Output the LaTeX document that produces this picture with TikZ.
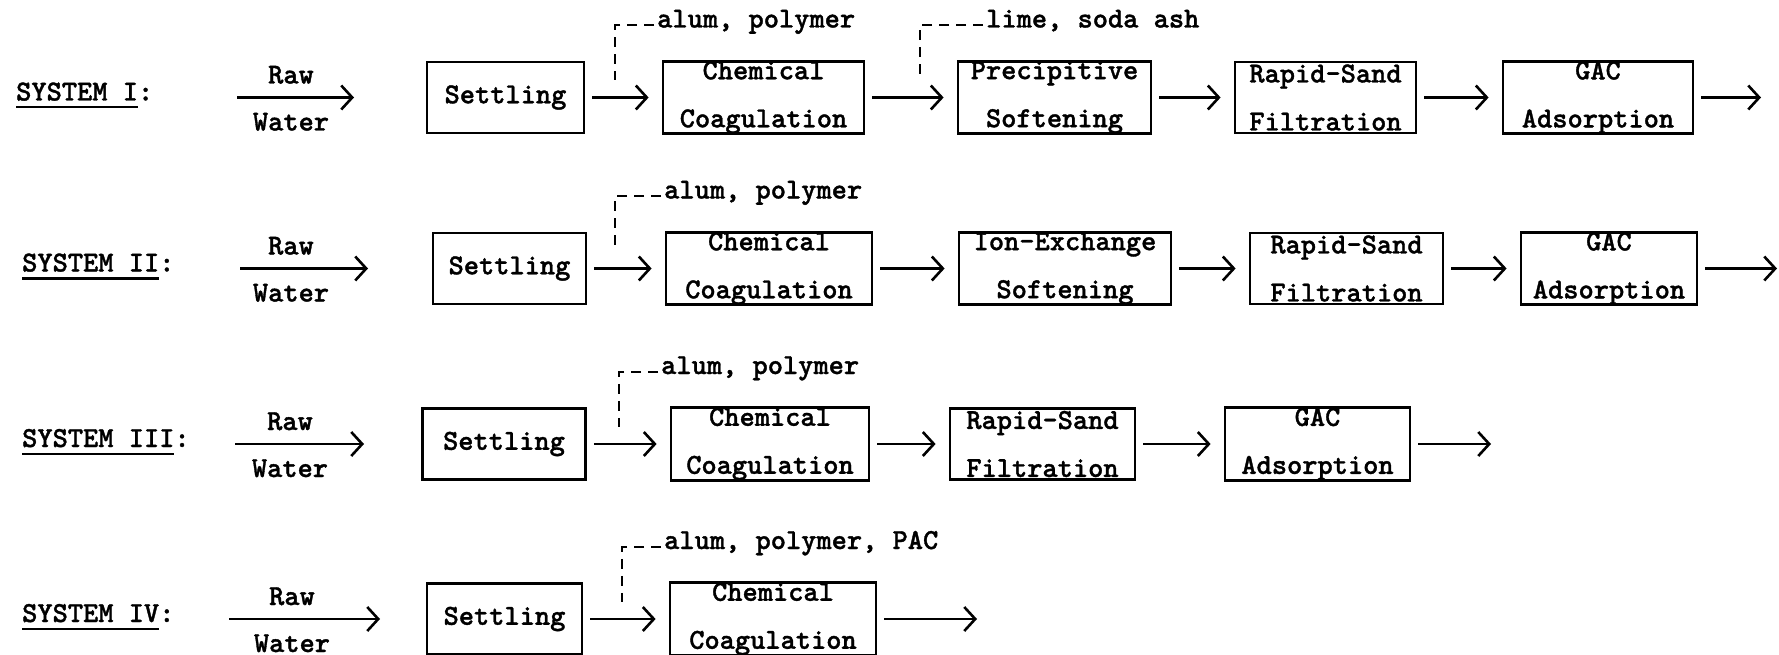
\documentclass[tikz,border=0pt]{standalone}
\usepackage{fontspec}
\usetikzlibrary{arrows.meta}
\newfontfamily\twfont[FakeBold=1.2]{lmmonolt10-bold.otf}
\newcommand{\sysname}[1]{\setbox0\hbox{#1}\rlap{\rule[-8pt]{\wd0}{2.2pt}}\box0}
\begin{document}
\begin{tikzpicture}[x=1pt,y=-1pt,
  unit/.style={draw,line width=2.8pt,inner xsep=0pt,inner ysep=0pt,minimum height=71pt,align=center,font=\twfont\fontsize{29}{48}\selectfont},
  tw/.style={inner sep=0pt,font=\twfont\fontsize{29}{34}\selectfont},
  feed/.style={tw,inner xsep=3pt,anchor=base west},
  flow/.style={-{Straight Barb[length=11pt,width=24pt]},line width=2.6pt,shorten <=7pt,shorten >=13pt},
  dose/.style={line width=2pt,dash pattern=on 10pt off 7pt}]
\path[use as bounding box] (0,0) rectangle (1779,655);
% SYSTEM I
\node[tw,anchor=base west] (sys1) at (16,100.5) {\sysname{SYSTEM I}:};
\node[tw,anchor=base] (raw1) at (291,83.5) {Raw};
\node[tw,anchor=base] (wat1) at (291,130.5) {Water};
\coordinate (in1) at (237,97.5);
\coordinate (inend1) at (354,97.5);
\node[unit,minimum width=157pt] (set1) at (505.5,97.5) {Settling};
\node[unit,minimum width=201pt] (chem1) at (763.5,97.5) {Chemical\\Coagulation};
\node[unit,minimum width=193pt] (prec1) at (1054.5,97.5) {Precipitive\\Softening};
\node[unit,minimum width=181pt] (rsf1) at (1325.5,97.5) {Rapid-Sand\\Filtration};
\node[unit,minimum width=190pt] (gac1) at (1598,97.5) {GAC\\Adsorption};
\coordinate (out1) at (1761,97.5);
\node[feed] (alum1) at (654,27.5) {alum, polymer};
\coordinate (drop1) at (615,80.5);
\node[feed] (lime1) at (983,27.5) {lime, soda ash};
\coordinate (drop1b) at (920,78);
\draw[flow,shorten <=0pt,shorten >=0pt] (in1) -- (inend1);
\draw[flow] (set1) -- (chem1);
\draw[flow] (chem1) -- (prec1);
\draw[flow] (prec1) -- (rsf1);
\draw[flow] (rsf1) -- (gac1);
\draw[flow,shorten >=0pt] (gac1) -- (out1);
\draw[dose] (alum1.mid west) -| (drop1);
\draw[dose] (lime1.mid west) -| (drop1b);
% SYSTEM II
\node[tw,anchor=base west] (sys2) at (22,271.5) {\sysname{SYSTEM II}:};
\node[tw,anchor=base] (raw2) at (291,254.5) {Raw};
\node[tw,anchor=base] (wat2) at (291,301.5) {Water};
\coordinate (in2) at (240,268.5);
\coordinate (inend2) at (368,268.5);
\node[unit,minimum width=153pt] (set2) at (509.5,268.5) {Settling};
\node[unit,minimum width=206pt] (chem2) at (769,268.5) {Chemical\\Coagulation};
\node[unit,minimum width=212pt] (ion2) at (1065,268.5) {Ion-Exchange\\Softening};
\node[unit,minimum width=193pt] (rsf2) at (1346.5,268.5) {Rapid-Sand\\Filtration};
\node[unit,minimum width=176pt] (gac2) at (1609,268.5) {GAC\\Adsorption};
\coordinate (out2) at (1777,268.5);
\node[feed] (alum2) at (661,198.5) {alum, polymer};
\coordinate (drop2) at (615,251.5);
\draw[flow,shorten <=0pt,shorten >=0pt] (in2) -- (inend2);
\draw[flow] (set2) -- (chem2);
\draw[flow] (chem2) -- (ion2);
\draw[flow] (ion2) -- (rsf2);
\draw[flow] (rsf2) -- (gac2);
\draw[flow,shorten >=0pt] (gac2) -- (out2);
\draw[dose] (alum2.mid west) -| (drop2);
% SYSTEM III
\node[tw,anchor=base west] (sys3) at (22,447) {\sysname{SYSTEM III}:};
\node[tw,anchor=base] (raw3) at (290,430) {Raw};
\node[tw,anchor=base] (wat3) at (290,477) {Water};
\coordinate (in3) at (235,444);
\coordinate (inend3) at (364,444);
\node[unit,minimum width=163pt] (set3) at (504,444) {Settling};
\node[unit,minimum width=198pt] (chem3) at (770,444) {Chemical\\Coagulation};
\node[unit,minimum width=185pt] (rsf3) at (1042.5,444) {Rapid-Sand\\Filtration};
\node[unit,minimum width=185pt] (gac3) at (1317.5,444) {GAC\\Adsorption};
\coordinate (out3) at (1491,444);
\node[feed] (alum3) at (658,374) {alum, polymer};
\coordinate (drop3) at (619,427);
\draw[flow,shorten <=0pt,shorten >=0pt] (in3) -- (inend3);
\draw[flow] (set3) -- (chem3);
\draw[flow] (chem3) -- (rsf3);
\draw[flow] (rsf3) -- (gac3);
\draw[flow,shorten >=0pt] (gac3) -- (out3);
\draw[dose] (alum3.mid west) -| (drop3);
% SYSTEM IV
\node[tw,anchor=base west] (sys4) at (22,622) {\sysname{SYSTEM IV}:};
\node[tw,anchor=base] (raw4) at (292,605) {Raw};
\node[tw,anchor=base] (wat4) at (292,652) {Water};
\coordinate (in4) at (229,619);
\coordinate (inend4) at (380,619);
\node[unit,minimum width=155pt] (set4) at (504.5,619) {Settling};
\node[unit,minimum width=206pt] (chem4) at (773,619) {Chemical\\Coagulation};
\coordinate (out4) at (977,619);
\node[feed] (alum4) at (661,549) {alum, polymer, PAC};
\coordinate (drop4) at (622,602);
\draw[flow,shorten <=0pt,shorten >=0pt] (in4) -- (inend4);
\draw[flow] (set4) -- (chem4);
\draw[flow,shorten >=0pt] (chem4) -- (out4);
\draw[dose] (alum4.mid west) -| (drop4);
\end{tikzpicture}
\end{document}
